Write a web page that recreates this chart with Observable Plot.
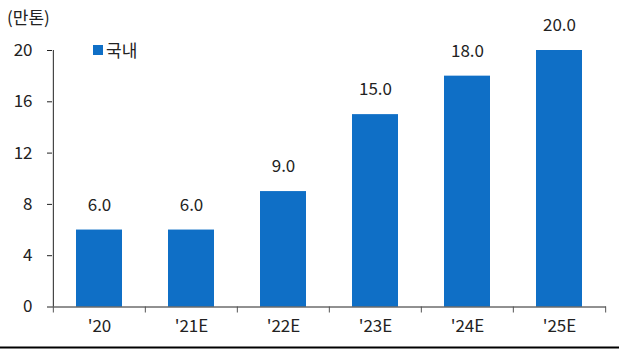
<!DOCTYPE html>
<html><head><meta charset="utf-8">
<script src="https://cdn.jsdelivr.net/npm/d3@7"></script>
<script src="https://cdn.jsdelivr.net/npm/@observablehq/plot@0.6"></script>
<style>
body{margin:0;background:#fff;}
#wrap{position:relative;width:619px;height:350px;font-family:"Noto Sans CJK KR","Noto Sans",sans-serif;color:#222;}
#unit{position:absolute;left:7px;top:4px;font-size:17px;z-index:1;}
#legend{position:absolute;left:93px;top:37px;font-size:17px;display:flex;align-items:center;z-index:1;}
#legend span.sw{display:inline-block;width:10px;height:10px;background:#0f6fc6;margin-right:3px;}
</style></head>
<body><div id="wrap"><div id="unit">(만톤)</div><div id="legend"><span class="sw"></span>국내</div></div>
<script>
const categories = ["'20","'21E","'22E","'23E","'24E","'25E"];
const values = [6.0, 6.0, 9.0, 15.0, 18.0, 20.0];
const yTicks = [0, 4, 8, 12, 16, 20];
const seriesName = "국내";

const data = categories.map((c,i)=>({cat:c, v:values[i]}));
const W = 619, H = 350, ML = 52, MR = 13, MT = 50, MB = 43.5;
const step = (W-ML-MR)/categories.length;
const bottomLine = -(H-3-(H-MB))/(H-MT-MB)*20;

const chart = Plot.plot({
  width: W, height: H,
  marginLeft: ML, marginRight: MR, marginTop: MT, marginBottom: MB,
  style: {fontFamily: '"Noto Sans CJK KR","Noto Sans",sans-serif', fontSize: "17px", color: "#222", background: "#fff"},
  x: {domain: categories, paddingInner: 0.5, paddingOuter: 0.25, label: null},
  y: {domain: [0, 20], label: null},
  marks: [
    Plot.barY(data, {x: "cat", y: "v", fill: "#0f6fc6"}),
    Plot.axisY(yTicks, {tickSize: 5, tickPadding: 15, stroke: "#222", fill: "#222", fontSize: 17}),
    Plot.axisX({tickSize: 0, tickPadding: 13, fill: "#222", fontSize: 17}),
    Plot.ruleY([0], {stroke: "#222"}),
    Plot.ruleX([categories[0]], {dx: -step/2, y1: 0, y2: 20, stroke: "#222"}),
    Plot.ruleX(categories, {x: d=>d, dx: -step/2, y1: 0, y2: 0, insetBottom: -6, stroke: "#555"}),
    Plot.ruleX([categories[categories.length-1]], {dx: step/2, y1: 0, y2: 0, insetBottom: -6, stroke: "#555"}),
    Plot.text(data, {x: "cat", y: "v", text: d=>d.v.toFixed(1), dy: -25, fill: "#222", fontSize: 17}),
    Plot.ruleY([bottomLine], {stroke: "#000", strokeWidth: 2, insetLeft: -ML, insetRight: -MR})
  ]
});
chart.style.position = "absolute"; chart.style.left = "0"; chart.style.top = "0";
document.getElementById("wrap").appendChild(chart);
</script></body></html>
